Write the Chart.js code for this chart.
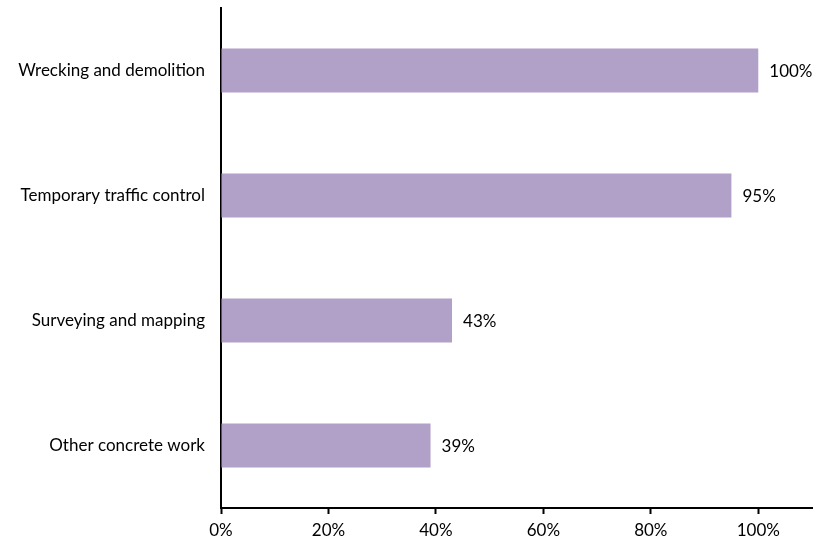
<!DOCTYPE html>
<html>
<head>
<meta charset="utf-8">
<script src="https://cdn.jsdelivr.net/npm/chart.js@4.4.1/dist/chart.umd.min.js"></script>
<style>
  html, body { margin: 0; padding: 0; background: #fff; }
  #wrap { width: 815px; height: 541px; }
</style>
</head>
<body>
<div id="wrap"><canvas id="chart"></canvas></div>
<script>
// categories and shares (percent)
const categorias = [
  "Wrecking and demolition",
  "Temporary traffic control",
  "Surveying and mapping",
  "Other concrete work"
];
const valores = [100, 95, 43, 39];
const tickLabels = [0, 20, 40, 60, 80, 100];

const fuente = "Lato, 'Open Sans', sans-serif";

// etiquetes al final de cada barra
const etiquetes = {
  id: "etiquetes",
  afterDatasetsDraw(chart) {
    const ctx = chart.ctx;
    const meta = chart.getDatasetMeta(0);
    ctx.save();
    ctx.font = "17px " + fuente;
    ctx.fillStyle = "#000";
    ctx.textAlign = "left";
    ctx.textBaseline = "middle";
    meta.data.forEach((bar, i) => {
      ctx.fillText(valores[i] + "%", bar.x + 11, bar.y + 1);
    });
    ctx.restore();
  }
};

let node = document.querySelector("#chart");
let grafic = new Chart(node, {
  type: "bar",
  data: {
    labels: categorias,
    datasets: [{
      data: valores,
      backgroundColor: "#B1A0C7",
      borderWidth: 0,
      barPercentage: 0.352,
      categoryPercentage: 1
    }]
  },
  options: {
    indexAxis: "y",
    responsive: true,
    maintainAspectRatio: false,
    animation: false,
    layout: { padding: { top: 8, right: 3, left: 0, bottom: 0 } },
    plugins: {
      legend: { display: false },
      tooltip: { enabled: false }
    },
    scales: {
      x: {
        min: 0,
        max: 110,
        afterBuildTicks(scale) {
          scale.ticks = tickLabels.map(v => ({ value: v }));
        },
        afterFit(scale) {
          scale.height = 33;
          scale.paddingLeft = 0;
          scale.paddingRight = 0;
        },
        border: { display: true, color: "#000", width: 2 },
        grid: {
          display: true,
          drawOnChartArea: false,
          drawTicks: true,
          tickLength: 6,
          tickColor: "#000",
          tickWidth: 2
        },
        ticks: {
          padding: 6,
          color: "#000",
          font: { family: fuente, size: 17 },
          maxRotation: 0,
          callback: v => v + "%"
        }
      },
      y: {
        afterFit(scale) {
          scale.width = 221;
          scale.paddingTop = 0;
          scale.paddingBottom = 0;
        },
        border: { display: true, color: "#000", width: 2 },
        grid: { display: false, drawTicks: false },
        ticks: {
          padding: 16,
          color: "#000",
          font: { family: fuente, size: 17 }
        }
      }
    }
  },
  plugins: [etiquetes]
});
</script>
</body>
</html>
